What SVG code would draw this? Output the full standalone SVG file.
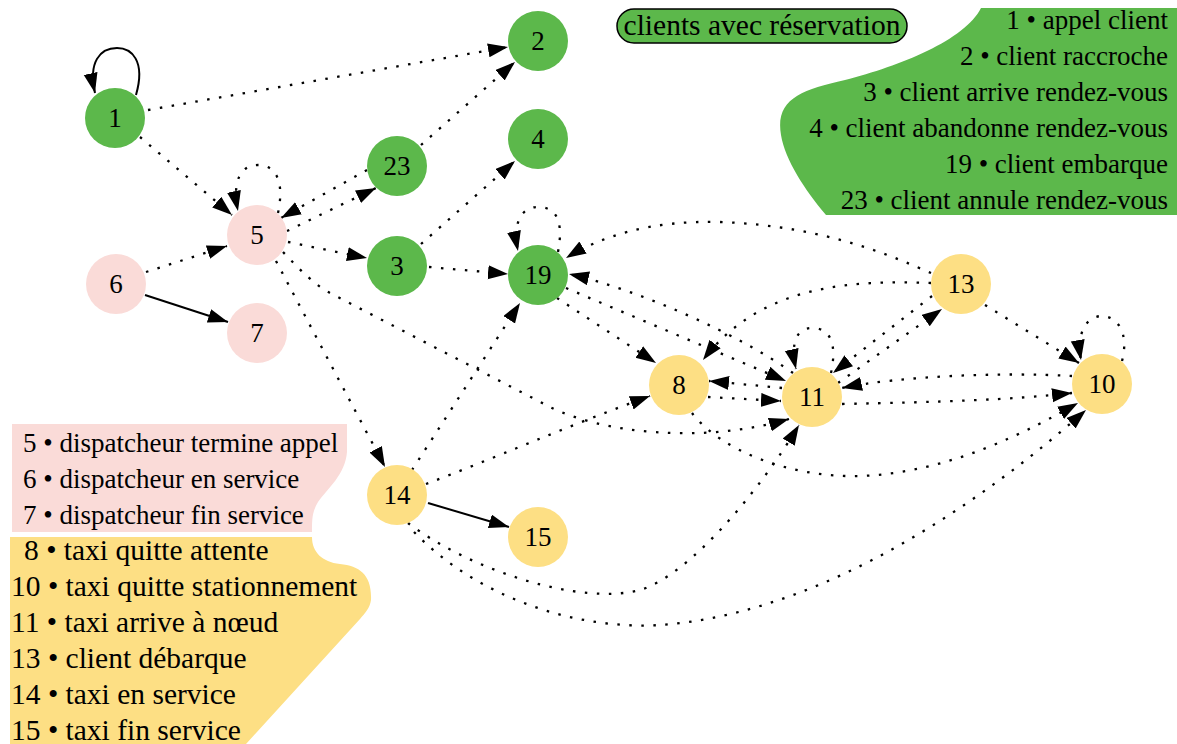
<svg xmlns="http://www.w3.org/2000/svg" width="1177" height="744" viewBox="0 0 1177 744">
<style>
.t{font-family:"Liberation Serif","Times New Roman",serif;fill:#000}
.nl{font-size:27px;text-anchor:middle}
.g{fill:#5cb84b}.p{fill:#fadbd8}.y{fill:#fddf84}
.e{fill:none;stroke:#000;stroke-width:2.3;stroke-dasharray:2.5 9.5;marker-end:url(#ah)}
.s{fill:none;stroke:#000;stroke-width:2;marker-end:url(#ah)}
.lg{font-size:27px;text-anchor:end}
.lp{font-size:27px}
.ly{font-size:29.5px}
</style>
<defs>
<marker id="ah" markerUnits="userSpaceOnUse" markerWidth="22" markerHeight="16" refX="20" refY="7" orient="auto">
<path d="M0,0 L20,7 L0,14 Z" fill="#000"/>
</marker>
</defs>
<rect width="1177" height="744" fill="#fff"/>

<g id="legend-green">
<path class="g" d="M981,8 C965,40 900,66 845,80 C800,90 775,100 781,135 C785,160 805,190 826,215 L1177,215 L1177,8 Z"/>
<text class="t lg" x="1168" y="29">1 • appel client</text>
<text class="t lg" x="1168" y="65">2 • client raccroche</text>
<text class="t lg" x="1168" y="101">3 • client arrive rendez-vous</text>
<text class="t lg" x="1168" y="137">4 • client abandonne rendez-vous</text>
<text class="t lg" x="1168" y="173">19 • client embarque</text>
<text class="t lg" x="1168" y="209">23 • client annule rendez-vous</text>
</g>

<g id="title">
<rect x="617" y="9" width="290" height="34" rx="17" class="g" stroke="#000" stroke-width="1.5"/>
<text class="t" x="762" y="35" font-size="29.5" text-anchor="middle">clients avec réservation</text>
</g>

<g id="legend-pink">
<path class="p" d="M12,424 L347,424 L347,452 C345,475 328,488 318,502 C312,512 312,520 312,532 L12,532 Z"/>
<text class="t lp" x="23" y="452">5 • dispatcheur termine appel</text>
<text class="t lp" x="23" y="488">6 • dispatcheur en service</text>
<text class="t lp" x="23" y="524">7 • dispatcheur fin service</text>
</g>

<g id="legend-yellow">
<path class="y" d="M10,537 L312,537 C312,552 322,562 340,564 C360,566 372,575 371,600 C370,608 365,613 360,619 L246,744 L10,744 Z"/>
<text class="t ly" x="24" y="560">8 • taxi quitte attente</text>
<text class="t ly" x="11" y="596">10 • taxi quitte stationnement</text>
<text class="t ly" x="11" y="632">11 • taxi arrive à nœud</text>
<text class="t ly" x="11" y="668">13 • client débarque</text>
<text class="t ly" x="11" y="704">14 • taxi en service</text>
<text class="t ly" x="11" y="740">15 • taxi fin service</text>
</g>

<g id="edges">
<path class="s" d="M136,95 C146,60 131,48 117,48 C100,48 88,62 95,93"/>
<path class="e" d="M148,110 L508,47"/>
<path class="e" d="M140,137 L232,215"/>
<path class="e" d="M278,213 C285,180 275,165 258,165 C240,165 232,182 238,211"/>
<path class="e" d="M367,170 L281,218"/>
<path class="e" d="M287,231 L376,188"/>
<path class="e" d="M288,242 L367,258"/>
<path class="e" d="M146,272 L227,246"/>
<path class="s" d="M145,295 L228,322"/>
<path class="e" d="M276,261 L385,467"/>
<path class="e" d="M283,252 C300,270 315,285 330,293 L550,407 C600,432 700,445 789,419"/>
<path class="e" d="M421,145 L515,62"/>
<path class="e" d="M421,244 L515,161"/>
<path class="e" d="M429,267 L508,274"/>
<path class="e" d="M558,252 C565,215 552,207 538,207 C522,207 512,222 518,251"/>
<path class="e" d="M931,273 C900,260 830,226 720,222 C650,220 600,237 566,258"/>
<path class="e" d="M931,283 C850,280 760,285 703,360"/>
<path class="e" d="M932,296 L833,373"/>
<path class="e" d="M838,383 L942,309"/>
<path class="e" d="M782,388 L709,381"/>
<path class="e" d="M708,397 L781,401"/>
<path class="e" d="M557,298 L656,363"/>
<path class="e" d="M566,288 L786,381"/>
<path class="e" d="M793,373 C740,335 640,290 569,274"/>
<path class="e" d="M831,373 C838,340 828,328 812,328 C797,328 790,342 796,369"/>
<path class="e" d="M1122,361 C1130,330 1115,316 1102,316 C1088,316 1076,330 1081,360"/>
<path class="e" d="M985,305 L1079,363"/>
<path class="e" d="M1072,376 C1000,372 900,376 842,388"/>
<path class="e" d="M842,404 C940,402 1010,400 1072,393"/>
<path class="e" d="M692,413 C720,450 790,478 860,476 C950,473 1030,430 1078,403"/>
<path class="e" d="M412,470 L520,303"/>
<path class="e" d="M426,484 C490,460 570,425 650,396"/>
<path class="s" d="M428,503 L509,527"/>
<path class="e" d="M408,523 C470,570 580,606 640,590 C690,575 760,490 799,425"/>
<path class="e" d="M414,532 C480,600 580,630 660,625 C800,615 950,530 1086,410"/>
</g>

<g id="n1"><circle cx="115" cy="118" r="30" class="g"/><text class="t nl" x="115" y="127">1</text></g>
<g id="n2"><circle cx="538" cy="41" r="30" class="g"/><text class="t nl" x="538" y="50">2</text></g>
<g id="n4"><circle cx="538" cy="139" r="30" class="g"/><text class="t nl" x="538" y="148">4</text></g>
<g id="n23"><circle cx="397" cy="166" r="30" class="g"/><text class="t nl" x="397" y="175">23</text></g>
<g id="n5"><circle cx="257" cy="235" r="30" class="p"/><text class="t nl" x="257" y="244">5</text></g>
<g id="n3"><circle cx="397" cy="266" r="30" class="g"/><text class="t nl" x="397" y="275">3</text></g>
<g id="n19"><circle cx="538" cy="275" r="30" class="g"/><text class="t nl" x="538" y="284">19</text></g>
<g id="n6"><circle cx="116" cy="284" r="30" class="p"/><text class="t nl" x="116" y="293">6</text></g>
<g id="n7"><circle cx="257" cy="333" r="30" class="p"/><text class="t nl" x="257" y="342">7</text></g>
<g id="n13"><circle cx="961" cy="284" r="30" class="y"/><text class="t nl" x="961" y="293">13</text></g>
<g id="n8"><circle cx="679" cy="385" r="30" class="y"/><text class="t nl" x="679" y="394">8</text></g>
<g id="n11"><circle cx="812" cy="397" r="30" class="y"/><text class="t nl" x="812" y="406">11</text></g>
<g id="n10"><circle cx="1102" cy="384" r="30" class="y"/><text class="t nl" x="1102" y="393">10</text></g>
<g id="n14"><circle cx="397" cy="495" r="30" class="y"/><text class="t nl" x="397" y="504">14</text></g>
<g id="n15"><circle cx="538" cy="537" r="30" class="y"/><text class="t nl" x="538" y="546">15</text></g>
</svg>
